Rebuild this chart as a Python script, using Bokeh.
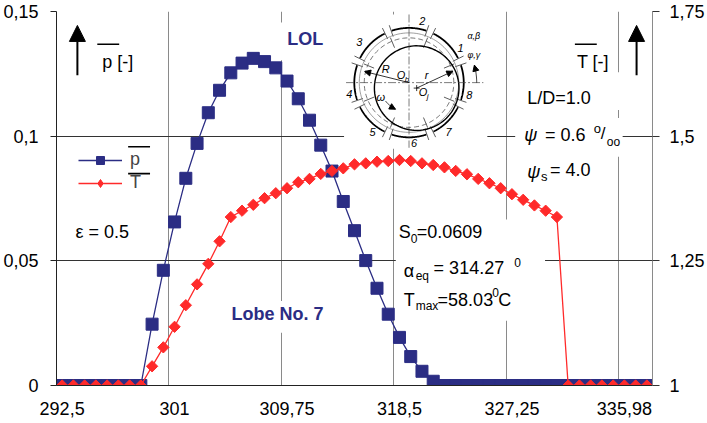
import numpy as np
from bokeh.plotting import figure
from bokeh.models import (Range1d, LinearAxis, FixedTicker, Label, Legend, LegendItem,
                          Arrow, NormalHead)
from bokeh.embed import file_html
from bokeh.resources import INLINE

# ---------------- data ----------------
x_grid_pos = [-0.5, 9.5, 19.5, 29.5, 39.5, 49.5]
x_tick_labels = ["292,5", "301", "309,75", "318,5", "327,25", "335,98"]
p_ticks = [0.0, 0.05, 0.1, 0.15]
p_tick_labels = ["0", "0,05", "0,1", "0,15"]
T_ticks = [1.0, 1.25, 1.5, 1.75]
T_tick_labels = ["1", "1,25", "1,5", "1,75"]

p_bar = [0, 0, 0, 0, 0, 0, 0, 0,
         0.0246, 0.0462, 0.0656, 0.0831, 0.0971, 0.1094, 0.1184, 0.1254, 0.1293,
         0.1312, 0.1299, 0.1274, 0.1221, 0.1150, 0.1064, 0.0964, 0.0860, 0.0738,
         0.0621, 0.0501, 0.0390, 0.0286, 0.0193, 0.0116, 0.0057, 0.0017,
         0, 0, 0, 0, 0, 0, 0, 0, 0, 0, 0, 0, 0, 0, 0, 0, 0, 0, 0]
T_bar = [1, 1, 1, 1, 1, 1, 1, 1,
         1.0385, 1.0765, 1.1177, 1.1610, 1.2028, 1.2440, 1.2892, 1.3378, 1.3505,
         1.3624, 1.3756, 1.3856, 1.3956, 1.4076, 1.4143, 1.4243, 1.4303, 1.4355,
         1.4435, 1.4455, 1.4488, 1.4502, 1.4522, 1.4502, 1.4455, 1.4422, 1.4375,
         1.4303, 1.4236, 1.4143, 1.4056, 1.3956, 1.3836, 1.3724, 1.3611, 1.3505,
         1.3378,
         1, 1, 1, 1, 1, 1, 1, 1]
idx = list(range(len(p_bar)))

FONT = "Liberation Sans"
BLUE = "#2B2D84"
RED = "#FF2A2A"

W, H = 707, 423
TOP = 11
p = figure(width=W, height=H, x_range=Range1d(-0.5, 52.5), y_range=Range1d(0, 0.15),
           output_backend="svg", toolbar_location=None,
           min_border_left=54, min_border_right=54, min_border_top=TOP, min_border_bottom=38)
p.extra_y_ranges = {"T": Range1d(1.0, 1.75), "py": Range1d(385, 9)}
p.extra_x_ranges = {"px": Range1d(54, 653)}
p.outline_line_color = None
p.background_fill_color = "white"
p.border_fill_color = "white"

# axes
xa = p.xaxis[0]
xa.ticker = FixedTicker(ticks=[v + 0.5 for v in x_grid_pos])
xa.major_label_overrides = {v + 0.5: s for v, s in zip(x_grid_pos, x_tick_labels)}
xa.major_tick_line_color = None
xa.major_tick_out = 0
xa.major_tick_in = 0
xa.major_label_standoff = 16
xa.axis_line_color = "#222222"

ya = p.yaxis[0]
ya.ticker = FixedTicker(ticks=p_ticks)
ya.major_label_overrides = {v: s for v, s in zip(p_ticks, p_tick_labels)}
ya.major_tick_out = 6
ya.major_tick_in = 0
ya.major_label_standoff = 12
ya.axis_line_color = "#222222"
ya.major_tick_line_color = "#222222"

ra = LinearAxis(y_range_name="T", ticker=FixedTicker(ticks=T_ticks),
                major_label_overrides={v: s for v, s in zip(T_ticks, T_tick_labels)})
ra.major_tick_out = 7
ra.major_tick_in = 0
ra.major_label_standoff = 10
ra.axis_line_color = "#8a8a8a"
ra.major_tick_line_color = "#333333"
p.add_layout(ra, "right")

for ax in (xa, ya, ra):
    ax.major_label_text_font = FONT
    ax.major_label_text_font_size = "18px"
    ax.major_label_text_color = "black"
    ax.minor_tick_line_color = None

p.xgrid.ticker = FixedTicker(ticks=x_grid_pos)
p.ygrid.ticker = FixedTicker(ticks=p_ticks)
p.xgrid.grid_line_color = "#8a8a8a"
p.ygrid.grid_line_color = "#333333"
p.xgrid.grid_line_width = 1
p.ygrid.grid_line_width = 1

PX = dict(x_range_name="px", y_range_name="py")

# white boxes that interrupt grid lines (behind text)
boxes = [(272, 332, 20, 58),    # LOL
         (343, 487, 12, 147),   # inset
         (520, 626, 70, 108),   # L/D
         (515, 623, 116, 155),  # psi
         (225, 328, 300, 332),  # Lobe No. 7
         (395, 545, 218, 320)]  # S0 block
p.quad(left=[b[0] for b in boxes], right=[b[1] for b in boxes],
       top=[b[2] for b in boxes], bottom=[b[3] for b in boxes],
       fill_color="white", line_color=None, **PX)

# ---------------- series ----------------
bl = p.line(idx, p_bar, color=BLUE, line_width=1.3)
bs = p.scatter(idx, p_bar, marker="square", size=12, color=BLUE)
rl = p.line(idx, T_bar, color=RED, line_width=1.3, y_range_name="T")
rs = p.scatter(idx, T_bar, marker="square", angle=np.pi / 4, size=8, color=RED,
               y_range_name="T")
# legend-only diamond glyph (a single NaN point, never drawn in the plot)
rleg = p.scatter([np.nan], [np.nan], marker="diamond", size=19, color=RED,
                 y_range_name="T")

legend = Legend(items=[LegendItem(label="p", renderers=[bl, bs]),
                       LegendItem(label="T", renderers=[rl, rleg])],
                location=(22, 192), orientation="vertical",
                glyph_width=44, glyph_height=20, label_height=20, spacing=2,
                padding=0, margin=0, label_standoff=8,
                label_text_font=FONT, label_text_font_size="18px",
                border_line_color=None, background_fill_alpha=0)
p.add_layout(legend)


def txt(x, y, s, size=18, color="black", style="normal", align="left", font=FONT):
    p.add_layout(Label(x=x, y=y, text=s, text_font=font, text_font_size=f"{size}px",
                       text_color=color, text_font_style=style, text_align=align,
                       text_baseline="middle", **PX))


# overbars
bars = [(95, 117, 42), (575, 597, 42), (126, 148, 145), (126, 148, 172)]
p.segment(x0=[b[0] for b in bars], x1=[b[1] for b in bars],
          y0=[b[2] for b in bars], y1=[b[2] for b in bars],
          line_color="black", line_width=1.6, **PX)

# axis titles and arrows
txt(100, 60, "p [-]")
txt(577, 60, "T [-]")
for ax_x in (75, 637):
    p.add_layout(Arrow(end=NormalHead(size=16, fill_color="black", line_color="black"),
                       x_start=ax_x, y_start=73, x_end=ax_x, y_end=23,
                       line_color="black", line_width=2, **PX))

# annotations
txt(286, 37, "LOL", size=18, color=BLUE, style="bold")
txt(230, 313, "Lobe No. 7", size=18, color=BLUE, style="bold")
txt(73, 231, "ε = 0.5")
txt(527, 96, "L/D=1.0")
txt(524, 133, "ψ", style="italic")
txt(545, 133, "= 0.6")
txt(594, 127, "o", size=13)
txt(601, 132, "/", size=17)
txt(607, 140, "oo", size=12)
txt(527, 170, "ψ", style="italic")
txt(541, 175, "s", size=13)
txt(550, 168, "= 4.0")

txt(398, 231, "S")
txt(410, 237, "0", size=12)
txt(416, 231, "=0.0609")
txt(403, 270, "α")
txt(415, 275, "eq", size=12)
txt(433, 267, "= 314.27")
txt(514, 261, "0", size=12)
txt(403, 299, "T")
txt(415, 305, "max", size=12)
txt(437, 299, "=58.03")
txt(492, 292, "0", size=12)
txt(498, 299, "C")

# ---------------- bearing inset ----------------
cx, cy = 408.3, 80.5
jx, jy = 416.0, 86.0


def arc_pts(x0, y0, r, a0, a1, n=60):
    t = np.radians(np.linspace(a0, a1, n))
    return list(x0 + r * np.cos(t)), list(y0 - r * np.sin(t))


slots = [22.5 + 45 * k for k in range(8)]
lobe_xs, lobe_ys = [], []
for a in slots:
    xs, ys = arc_pts(cx, cy, 55, a + 4, a + 41)
    lobe_xs.append(xs)
    lobe_ys.append(ys)
p.multi_line(lobe_xs, lobe_ys, line_color="black", line_width=1.8, **PX)

sl_x, sl_y = [], []
for a in slots:
    for d in (-3.5, 3.5):
        t = np.radians(a + d)
        sl_x.append([cx + 49 * np.cos(t), cx + 61 * np.cos(t)])
        sl_y.append([cy - 49 * np.sin(t), cy - 61 * np.sin(t)])
    t = np.radians(a)
    sl_x.append([cx + 38 * np.cos(t), cx + 49 * np.cos(t)])
    sl_y.append([cy - 38 * np.sin(t), cy - 49 * np.sin(t)])
p.multi_line(sl_x, sl_y, line_color="#333333", line_width=0.8, **PX)

xs, ys = arc_pts(cx, cy, 50, 0, 360, 120)
p.line(xs, ys, line_color="#777777", line_width=0.7, **PX)
xs, ys = arc_pts(cx, cy, 45, 0, 360, 120)
p.line(xs, ys, line_color="#555555", line_width=0.8, line_dash="5 3", **PX)
xs, ys = arc_pts(jx, jy, 42.5, 0, 360, 120)
p.line(xs, ys, line_color="black", line_width=1.4, **PX)

p.segment(x0=[cx, 345], x1=[cx, 483], y0=[12, cy], y1=[146, cy],
          line_color="#444444", line_width=0.7, line_dash="8 2 2 2", **PX)
p.segment(x0=[jx - 3, jx], x1=[jx + 3, jx], y0=[jy, jy - 3], y1=[jy, jy + 3],
          line_color="black", line_width=0.8, **PX)

# omega arc and angle arc
xs, ys = arc_pts(cx, cy, 30, 218, 243, 20)
p.line(xs, ys, line_color="black", line_width=0.8, **PX)
xs2, ys2 = arc_pts(cx, cy, 68, 0, 15, 20)
p.line(xs2, ys2, line_color="black", line_width=0.8, **PX)

small_arrows = [(cx, cy, cx + 46 * np.cos(np.radians(166)), cy - 46 * np.sin(np.radians(166))),
                (jx, jy, jx + 40 * np.cos(np.radians(25)), jy - 40 * np.sin(np.radians(25))),
                (xs[-3], ys[-3], xs[-1], ys[-1]),
                (xs2[-3], ys2[-3], xs2[-1], ys2[-1])]
for (a, b, c, d) in small_arrows:
    p.add_layout(Arrow(end=NormalHead(size=6, fill_color="black", line_color="black"),
                       x_start=a, y_start=b, x_end=c, y_end=d,
                       line_color="black", line_width=0.8, **PX))

nums = [("1", 460, 46), ("2", 421.7, 18.3), ("3", 358.3, 40), ("4", 348.3, 92.3),
        ("5", 371.7, 130), ("6", 413.3, 141.5), ("7", 448, 130), ("8", 469, 93)]
for s, x, y in nums:
    txt(x, y, s, size=11, style="italic", align="center")
txt(385, 67, "R", size=11, style="italic", align="center")
txt(396, 73, "O", size=11, style="italic")
txt(404, 77, "b", size=8, style="italic")
txt(424, 73, "r", size=11, style="italic")
txt(418, 90, "O", size=11, style="italic")
txt(426, 94, "j", size=8, style="italic")
txt(380, 95, "ω", size=11, style="italic", align="center")
txt(467, 34, "α,β", size=9, style="italic")
txt(467, 53, "φ,γ", size=9, style="italic")

open("out.html", "w").write(file_html(p, INLINE))
